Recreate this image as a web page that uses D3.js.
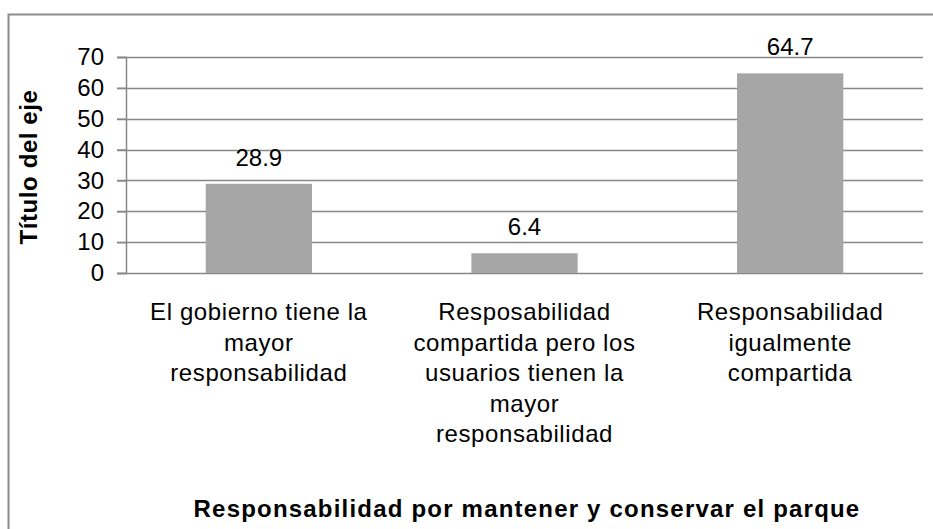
<!DOCTYPE html>
<html>
<head>
<meta charset="utf-8">
<script src="https://cdn.jsdelivr.net/npm/d3@7"></script>
<style>
    body { margin: 0; background: #fff; }
    svg text { font-family: "Liberation Sans", Arial, sans-serif; fill: #000; }
</style>
</head>
<body>
<div id="chart"></div>
<script>
// chart data
var categories = [
    "El gobierno tiene la mayor responsabilidad",
    "Resposabilidad compartida pero los usuarios tienen la mayor responsabilidad",
    "Responsabilidad igualmente compartida"
];
var categoryLines = [
    ["El gobierno tiene la", "mayor", "responsabilidad"],
    ["Resposabilidad", "compartida pero los", "usuarios tienen la", "mayor", "responsabilidad"],
    ["Responsabilidad", "igualmente", "compartida"]
];
var values = [28.9, 6.4, 64.7];
var yTicks = [0, 10, 20, 30, 40, 50, 60, 70];
var yAxisTitle = "Título del eje";
var xAxisTitle = "Responsabilidad por mantener y conservar el parque";

var width = 933, height = 529;
var plotLeft = 126, plotRight = 923, plotTop = 57, plotBottom = 273;

var svg = d3.select("#chart")
    .append("svg")
    .attr("width", width)
    .attr("height", height);

// outer frame
svg.append("rect")
    .attr("x", 8.5)
    .attr("y", 14.5)
    .attr("width", 940)
    .attr("height", 540)
    .attr("fill", "none")
    .attr("stroke", "#8c8c8c")
    .attr("stroke-width", 2);

var x = d3.scaleBand()
    .domain(categories)
    .range([plotLeft, plotRight])
    .paddingInner(0.6)
    .paddingOuter(0.3);

var y = d3.scaleLinear()
    .domain([0, 70])
    .range([plotBottom, plotTop]);

// gridlines
svg.append("g")
    .selectAll("line")
    .data(yTicks)
    .enter()
    .append("line")
    .attr("x1", plotLeft - 9)
    .attr("x2", plotRight)
    .attr("y1", function(d) { return Math.round(y(d)) + 0.5; })
    .attr("y2", function(d) { return Math.round(y(d)) + 0.5; })
    .attr("stroke", "#888")
    .attr("stroke-width", 1.5);

// y axis
var yAxis = svg.append("g")
    .attr("transform", "translate(" + plotLeft + ",0)")
    .call(d3.axisLeft(y).tickValues(yTicks).tickSize(9).tickPadding(13));
yAxis.select(".domain").attr("stroke", "#888").attr("stroke-width", 1.5);
yAxis.selectAll(".tick line").attr("stroke", "#888").attr("stroke-width", 1.5);
yAxis.selectAll(".tick text")
    .attr("font-family", "'Liberation Sans', Arial, sans-serif")
    .attr("font-size", 24)
    .attr("fill", "#000");

// bars
svg.append("g")
    .selectAll("rect")
    .data(values)
    .enter()
    .append("rect")
    .attr("x", function(d, i) { return x(categories[i]); })
    .attr("width", x.bandwidth())
    .attr("y", function(d) { return y(d); })
    .attr("height", function(d) { return y(0) - y(d); })
    .attr("fill", "#a6a6a6");

// value labels
svg.append("g")
    .selectAll("text")
    .data(values)
    .enter()
    .append("text")
    .attr("x", function(d, i) { return x(categories[i]) + x.bandwidth() / 2; })
    .attr("y", function(d) { return y(d) - 18; })
    .attr("text-anchor", "middle")
    .attr("font-size", 24)
    .text(function(d) { return d; });

// category labels
var cats = svg.append("g")
    .selectAll("text")
    .data(categoryLines)
    .enter()
    .append("text")
    .attr("text-anchor", "middle")
    .attr("font-size", 24)
    .attr("letter-spacing", 0.6);
cats.selectAll("tspan")
    .data(function(d, i) { return d.map(function(line) { return { line: line, i: i }; }); })
    .enter()
    .append("tspan")
    .attr("x", function(d) { return x(categories[d.i]) + x.bandwidth() / 2; })
    .attr("y", function(d, j) { return y(0) + 47 + j * 30.5; })
    .text(function(d) { return d.line; });

// axis titles
svg.append("text")
    .attr("transform", "translate(37,167) rotate(-90)")
    .attr("text-anchor", "middle")
    .attr("font-size", 24)
    .attr("font-weight", "bold")
    .attr("letter-spacing", 0.6)
    .text(yAxisTitle);

svg.append("text")
    .attr("x", (192 + 862) / 2)
    .attr("y", 517)
    .attr("text-anchor", "middle")
    .attr("font-size", 24)
    .attr("font-weight", "bold")
    .attr("letter-spacing", 1.2)
    .text(xAxisTitle);
</script>
</body>
</html>
